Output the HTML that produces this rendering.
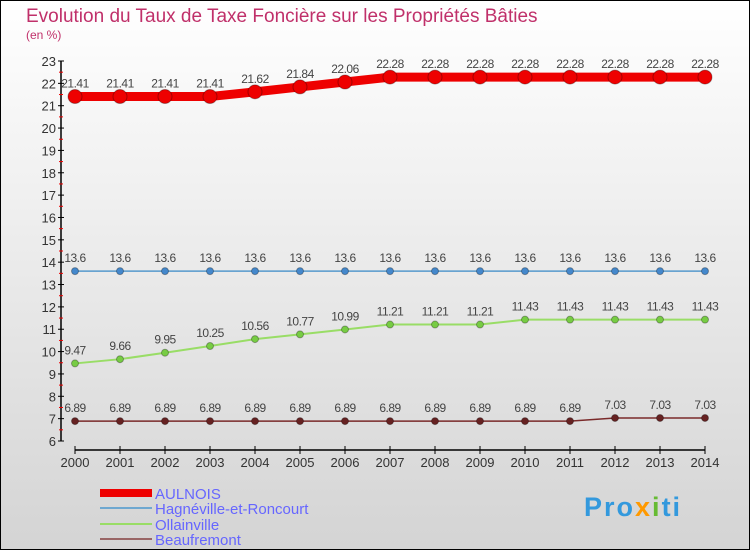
<!DOCTYPE html>
<html><head><meta charset="utf-8"><style>
body{margin:0;width:750px;height:550px;overflow:hidden}
svg{display:block;font-family:"Liberation Sans",sans-serif}
</style></head><body>
<svg id="c" width="750" height="550">
<defs><linearGradient id="bg" x1="0" y1="0" x2="0" y2="1"><stop offset="0" stop-color="#ffffff"/><stop offset="1" stop-color="#d4d4d4"/></linearGradient></defs>
<rect x="0.5" y="0.5" width="749" height="549" fill="url(#bg)" stroke="#000"/>
<text x="26" y="22" font-size="19" fill="#c0306a">Evolution du Taux de Taxe Foncière sur les Propriétés Bâties</text>
<text x="26" y="39" font-size="12" fill="#c0306a">(en %)</text>
<g id="axes"></g><g id="series"></g>
<g>
<rect x="100" y="489" width="52" height="8" fill="#ee0000"/>
<text x="155" y="499" font-size="15" fill="#6666ff">AULNOIS</text>
<rect x="100" y="507" width="52" height="2" fill="#6fa8d0"/>
<text x="155" y="514" font-size="15" fill="#6666ff">Hagnéville-et-Roncourt</text>
<rect x="100" y="523" width="52" height="2" fill="#99dd66"/>
<text x="155" y="530" font-size="15" fill="#6666ff">Ollainville</text>
<rect x="100" y="538" width="52" height="2" fill="#996666"/>
<text x="155" y="545" font-size="15" fill="#6666ff">Beaufremont</text>
</g>
<text x="584" y="516" font-size="27" font-weight="bold" letter-spacing="2" fill="#3399dd">Pro<tspan fill="#ff9900">x</tspan><tspan fill="#66bb33">i</tspan>ti</text>
</svg>
<script>
const years=[2000,2001,2002,2003,2004,2005,2006,2007,2008,2009,2010,2011,2012,2013,2014];
const yTicks=[6,7,8,9,10,11,12,13,14,15,16,17,18,19,20,21,22,23];
const aulnois=[21.41,21.41,21.41,21.41,21.62,21.84,22.06,22.28,22.28,22.28,22.28,22.28,22.28,22.28,22.28];
const hagneville=[13.6,13.6,13.6,13.6,13.6,13.6,13.6,13.6,13.6,13.6,13.6,13.6,13.6,13.6,13.6];
const ollainville=[9.47,9.66,9.95,10.25,10.56,10.77,10.99,11.21,11.21,11.21,11.43,11.43,11.43,11.43,11.43];
const beaufremont=[6.89,6.89,6.89,6.89,6.89,6.89,6.89,6.89,6.89,6.89,6.89,6.89,7.03,7.03,7.03];
const NS='http://www.w3.org/2000/svg';
const xS=i=>75+(705-75)*i/(years.length-1);
const yS=v=>441-(v-6)*(380/17);
function mk(t,a,p){const e=document.createElementNS(NS,t);for(const k in a)e.setAttribute(k,a[k]);p.appendChild(e);return e;}
const ax=document.getElementById('axes');
let l=mk('line',{x1:61,y1:yS(23),x2:61,y2:yS(6),stroke:'#000','stroke-width':1.5},ax);


yTicks.forEach(v=>{
  mk('line',{x1:58,x2:64,y1:yS(v),y2:yS(v),stroke:'#000'},ax);
  if(v<23)mk('line',{x1:59,x2:63,y1:yS(v+0.5),y2:yS(v+0.5),stroke:'#e00'},ax);
  const t=mk('text',{x:56,y:yS(v)+5,'font-size':13,fill:'#333','text-anchor':'end'},ax);t.textContent=v;
  
  
});
l=mk('line',{x1:xS(0),x2:xS(years.length-1),y1:450,y2:450,stroke:'#000','stroke-width':1.5},ax);


years.forEach((y,i)=>{
  mk('line',{x1:xS(i),x2:xS(i),y1:446,y2:454,stroke:'#000'},ax);
  const t=mk('text',{x:xS(i),y:467,'font-size':13,fill:'#333','text-anchor':'middle'},ax);t.textContent=y;
  
  
});
const sg=document.getElementById('series');
function series(name,vals,color,w,r,dot){
  const g=mk('g',{},sg);
  
  
  mk('polyline',{points:vals.map((v,i)=>xS(i)+','+yS(v)).join(' '),fill:'none',stroke:color,'stroke-width':w},g);
  vals.forEach((v,i)=>{
    const c=mk('circle',{cx:xS(i),cy:yS(v),r:r,fill:dot,stroke:'rgba(0,0,0,0.3)'},g);
    
    
    const t=mk('text',{x:xS(i),y:yS(v)-9,'font-size':12,fill:'#444','text-anchor':'middle','letter-spacing':'-0.5'},g);
    t.textContent=String(v);
    
    
  });
}
series('beaufremont',beaufremont,'#7a2a2a',1.5,3.5,'#662222');
series('ollainville',ollainville,'#99dd66',2,3.5,'#77cc44');
series('hagneville',hagneville,'#5599cc',1.5,3.5,'#4488cc');
series('aulnois',aulnois,'#ee0000',9,7,'#ee0000');
</script>
</body></html>
